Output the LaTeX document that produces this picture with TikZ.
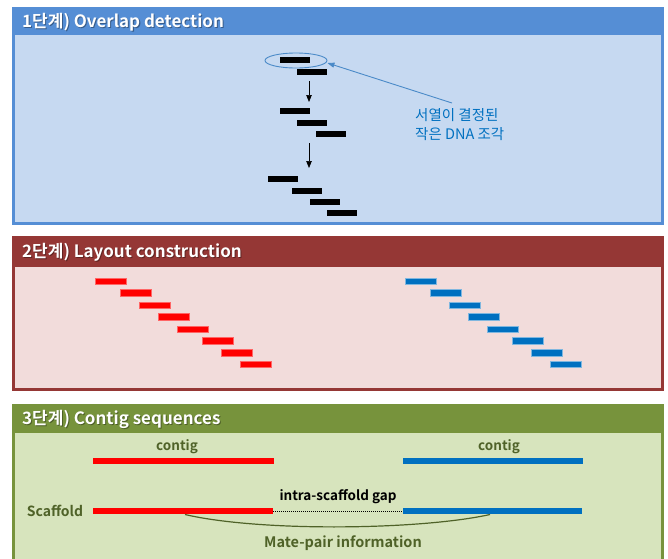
\documentclass[tikz,border=0pt]{standalone}
\usepackage{fontspec}
\setmainfont{Noto Sans CJK KR}
\newfontfamily\krb{Noto Sans CJK KR Bold}
\usetikzlibrary{shapes.geometric,arrows.meta}
\definecolor{bluebd}{HTML}{558ED5}
\definecolor{bluein}{HTML}{C6D9F1}
\definecolor{redbd}{HTML}{953735}
\definecolor{redin}{HTML}{F2DCDB}
\definecolor{grnbd}{HTML}{77933C}
\definecolor{grnin}{HTML}{D7E4BD}
\definecolor{txtblue}{HTML}{0070C0}
\definecolor{arrblue}{HTML}{4A8AC8}
\definecolor{olivetxt}{HTML}{4F6228}
\definecolor{seqred}{HTML}{FF0000}
\definecolor{seqblue}{HTML}{0070C0}
\tikzset{
  panel/.style={draw=#1, line width=3pt},
  hdr/.style={font=\krb\fontsize{17}{17}\selectfont, text=white, anchor=west, inner sep=0pt},
  hdrshadow/.style={font=\krb\fontsize{17}{17}\selectfont, text=black, opacity=0.35, anchor=west, inner sep=0pt},
  bar/.style={rectangle, fill=black, minimum width=30pt, minimum height=6pt, inner sep=0pt},
  rbar/.style={rectangle, fill=seqred, draw=seqred!60, line width=0.5pt, minimum width=31pt, minimum height=6.5pt, inner sep=0pt},
  bbar/.style={rectangle, fill=seqblue, draw=seqblue!50, line width=0.5pt, minimum width=31pt, minimum height=6.5pt, inner sep=0pt},
  seqline/.style={rectangle, inner sep=0pt, minimum height=6pt},
  lbl/.style={font=\krb\fontsize{13.5}{13.5}\selectfont, text=olivetxt, inner sep=0pt},
  down/.style={-{Triangle[length=7pt,width=5.5pt]}, line width=0.7pt, black},
}
\begin{document}
\begin{tikzpicture}[x=1pt,y=-1pt]
\useasboundingbox (0,0) rectangle (668,558);
\fill[white] (0,0) rectangle (668,558);
% ---------- panel 1
\fill[bluein] (13,8) rectangle (663,224);
\fill[bluebd] (12,7) rectangle (664,35);
\draw[panel=bluebd] (13.5,8.5) rectangle (662.5,223.5);
\node[hdrshadow] at (23,23) {1단계) Overlap detection};
\node[hdr] (h1) at (22,22) {1단계) Overlap detection};
% reads
\node[bar] (a1) at (295,60) {};
\node[bar] (a2) at (312,72) {};
\node[bar] (a3) at (295,111) {};
\node[bar] (a4) at (312,123) {};
\node[bar] (a5) at (330.5,134) {};
\node[bar] (a6) at (283,179) {};
\node[bar] (a7) at (306.5,191) {};
\node[bar] (a8) at (324.5,202) {};
\node[bar] (a9) at (342,213) {};
\coordinate (d1s) at (309,81);
\coordinate (d1e) at (309,102);
\coordinate (d2s) at (309,143);
\coordinate (d2e) at (309,168);
\draw[down] (d1s) -- (d1e);
\draw[down] (d2s) -- (d2e);
\node[ellipse, draw=arrblue, line width=0.9pt, minimum width=62pt, minimum height=15pt, inner sep=0pt] (el) at (296,60.5) {};
\node[anchor=north west, align=left, text=txtblue, font=\fontsize{14.5}{19}\selectfont, inner sep=0pt] (note) at (415,108) {서열이 결정된\\작은 DNA 조각};
\coordinate (ns) at (452,103);
\draw[arrblue, line width=0.9pt, -{Triangle[length=7pt,width=5pt]}] (ns) -- (el.east |- 0,63);
% ---------- panel 2
\fill[redin] (13,237) rectangle (663,390);
\fill[redbd] (12,236) rectangle (664,267);
\draw[panel=redbd] (13.5,237.5) rectangle (662.5,389.5);
\node[hdrshadow] at (23,253) {2단계) Layout construction};
\node[hdr] (h2) at (22,252) {2단계) Layout construction};
\foreach \i/\x/\y in {1/111/281,2/136/292.5,3/155/305,4/174/316.5,5/193/329,6/218/340.5,7/237/352.5,8/256/364}{
  \node[rbar] (r\i) at (\x,\y) {};
  \node[bbar] (u\i) at ({\x+310},\y) {};
}
% ---------- panel 3
\fill[grnin] (13,405) rectangle (663,560);
\fill[grnbd] (12,404) rectangle (664,433);
\draw[panel=grnbd] (13.5,405.5) -- (13.5,560) (662.5,560) -- (662.5,405.5) -- (13.5,405.5);
\node[hdrshadow] at (23,420) {3단계) Contig sequences};
\node[hdr] (h3) at (22,419) {3단계) Contig sequences};
\node[seqline, fill=seqred, minimum width=181pt] (c1) at (183.5,461) {};
\node[seqline, fill=seqblue, minimum width=180pt] (c2) at (493,461) {};
\node[lbl] (cl1) at (177,447) {contig};
\node[lbl] (cl2) at (499,447) {contig};
\node[seqline, fill=seqred, minimum width=180pt] (s1) at (183,511) {};
\node[seqline, fill=seqblue, minimum width=179pt] (s2) at (492.5,511) {};
\node[lbl, font=\krb\fontsize{14}{14}\selectfont] (sc) at (55,511) {Scaffold};
\draw[black, line width=1pt, dash pattern=on 0.8pt off 1.2pt] (s1.east) -- (s2.west);
\node[font=\krb\fontsize{13.5}{13.5}\selectfont, text=black, inner sep=0pt] (gap) at (338,497) {intra-scaffold gap};
\coordinate (m1) at (185,514.5);
\coordinate (m2) at (490,514.5);
\draw[olivetxt, line width=1.2pt] (m1) .. controls (260,532) and (420,530) .. (m2);
\node[lbl, font=\krb\fontsize{14.5}{14.5}\selectfont] (mp) at (343,543) {Mate-pair information};
\end{tikzpicture}
\end{document}
